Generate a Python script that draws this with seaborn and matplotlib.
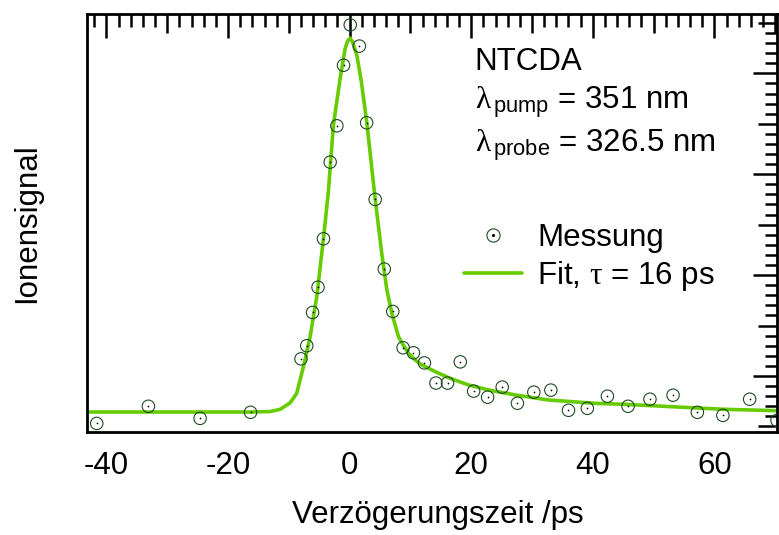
import matplotlib
matplotlib.use("Agg")
import matplotlib.pyplot as plt
import seaborn as sns
from matplotlib.lines import Line2D
from matplotlib.ticker import MultipleLocator, FuncFormatter

# Messung
delay_ps = [-41.6, -33.1, -24.6, -16.3, -8.0, -7.05, -6.1, -5.2, -4.3, -3.2,
            -2.1, -1.0, 0.1, 1.6, 2.8, 4.2, 5.7, 7.1, 8.8, 10.5,
            12.3, 14.2, 16.1, 18.2, 20.4, 22.7, 25.1, 27.6, 30.3, 33.1,
            36.0, 39.1, 42.4, 45.8, 49.4, 53.2, 57.2, 61.4, 65.8, 70.3]
ion_signal = [-0.47, -0.30, -0.42, -0.36, 0.17, 0.30, 0.63, 0.88, 1.36, 2.12,
              2.48, 3.08, 3.48, 3.27, 2.51, 1.75, 1.06, 0.64, 0.28, 0.23,
              0.13, -0.07, -0.07, 0.14, -0.15, -0.21, -0.11, -0.27, -0.16, -0.14,
              -0.34, -0.32, -0.20, -0.30, -0.23, -0.19, -0.36, -0.39, -0.23, -0.44]

# Fit curve, tau = 16 ps
fit_time = [-43.2, -16.4, -13.1, -11.5, -9.8, -8.7, -7.6, -6.5, -5.4, -4.3,
            -3.5, -2.67, -1.57, -0.74, -0.33, 0.08, 0.49, 1.19, 1.89, 2.83,
            4.20, 5.30, 6.13, 6.95, 8.04, 8.81, 9.69, 10.79, 11.89, 14.09,
            16.28, 19.57, 22.87, 27.27, 32.75, 40.44, 45.11, 50.61, 56.10, 61.58, 70.43]
fit_signal = [-0.357, -0.357, -0.352, -0.332, -0.268, -0.171, 0.092, 0.389, 0.786, 1.365,
              1.824, 2.485, 2.946, 3.244, 3.320, 3.350, 3.310, 3.178, 2.934, 2.510,
              1.754, 1.209, 0.852, 0.621, 0.389, 0.307, 0.225, 0.159, 0.109, 0.043,
              -0.017, -0.089, -0.139, -0.188, -0.238, -0.271, -0.280, -0.297, -0.314, -0.330, -0.344]

info_lines = ["NTCDA",
              "$\\mathrm{λ}_{\\,\\mathsf{pump}}$ = 351 nm",
              "$\\mathrm{λ}_{\\,\\mathsf{probe}}$ = 326.5 nm"]

fit_color = "#66cc00"
mark_color = "#1e4a22"

sns.set_theme(style="white")
plt.rcParams["font.family"] = ["Liberation Sans", "DejaVu Sans"]
plt.rcParams["mathtext.fontset"] = "custom"
plt.rcParams["mathtext.rm"] = "Liberation Serif"
plt.rcParams["mathtext.sf"] = "Liberation Sans"
plt.rcParams["mathtext.it"] = "Liberation Serif"
plt.rcParams["axes.unicode_minus"] = False
for key in ["text.color", "axes.labelcolor", "xtick.color", "ytick.color", "axes.edgecolor"]:
    plt.rcParams[key] = "black"
fs = 22.5

fig = plt.figure(figsize=(7.79, 5.35), dpi=100)
ax = fig.add_axes([87 / 779, 1 - 432 / 535, 690 / 779, 418 / 535])

sns.lineplot(x=fit_time, y=fit_signal, color=fit_color, lw=2.6, ax=ax, legend=False, zorder=2)
sns.scatterplot(x=delay_ps, y=ion_signal, s=80, marker="o", facecolor="none",
                edgecolor=mark_color, linewidth=0.8, ax=ax, legend=False, zorder=3)
sns.scatterplot(x=delay_ps, y=ion_signal, s=1.5, marker="o", color="black",
                linewidth=0, ax=ax, legend=False, zorder=4)

ax.set_xlim(-43.2, 70.3)
ax.set_ylim(-0.555, 3.588)

for side in ax.spines.values():
    side.set_linewidth(2)
    side.set_color("black")

ax.xaxis.set_major_locator(MultipleLocator(10))
ax.xaxis.set_minor_locator(MultipleLocator(2))
ax.xaxis.set_major_formatter(FuncFormatter(lambda v, p: "%d" % v if round(v) % 20 == 0 else ""))
ax.yaxis.set_major_locator(MultipleLocator(0.5))
ax.yaxis.set_minor_locator(MultipleLocator(0.1))
ax.yaxis.set_major_formatter(FuncFormatter(lambda v, p: ""))

ax.tick_params(which="both", direction="in", top=True, right=True, width=1.8,
               color="black", labelcolor="black")
ax.tick_params(which="major", length=13.5, labelsize=fs, pad=14)
ax.tick_params(which="minor", length=9)


def stretch_ticks(axis, step):
    locs = axis.get_majorticklocs()
    for loc, tick in zip(locs, axis.get_major_ticks(len(locs))):
        if abs(loc / step - round(loc / step)) < 1e-6:
            tick.tick1line.set_markersize(17.3)
            tick.tick2line.set_markersize(17.3)


stretch_ticks(ax.xaxis, 20)
stretch_ticks(ax.yaxis, 1.0)

ax.set_xlabel("Verzögerungszeit /ps", fontsize=fs, color="black")
ax.set_ylabel("Ionensignal", fontsize=fs, color="black")
ax.xaxis.set_label_coords(0.509, -0.163)
ax.yaxis.set_label_coords(-0.065, 0.5)

baselines = [0.866, 0.773, 0.672]
for txt, yb in zip(info_lines, baselines):
    ax.text(0.562, yb, txt, transform=ax.transAxes, fontsize=fs, va="baseline",
            ha="left", color="black")

circ = Line2D([], [], ls="none", marker="o", ms=9.5, mfc="none", mec=mark_color, mew=0.8)
dot = Line2D([], [], ls="none", marker="o", ms=1.2, color="black")
fit = Line2D([], [], color=fit_color, lw=2.6)
leg = ax.legend([(circ, dot), fit], ["Messung", "Fit, $τ$ = 16 ps"], loc="upper left",
                bbox_to_anchor=((464 - 87) / 690, (432 - 223) / 418), frameon=False, fontsize=fs,
                handlelength=1.87, handletextpad=0.47, labelspacing=0.2,
                borderpad=0, borderaxespad=0)
for t in leg.get_texts():
    t.set_color("black")

fig.savefig("out.png", dpi=100)
